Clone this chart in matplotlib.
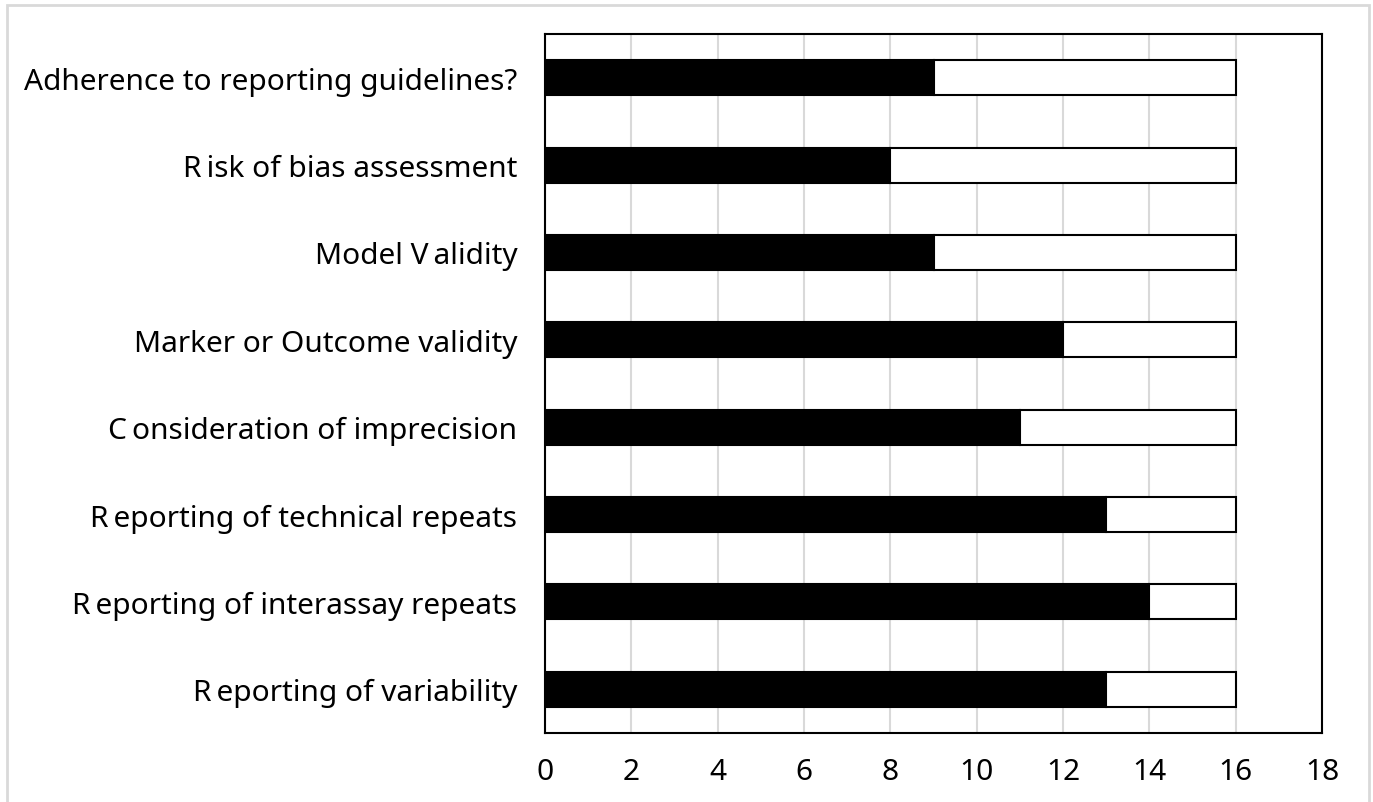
import matplotlib.pyplot as plt
from matplotlib.patches import Rectangle

categories = [
    'Adherence to reporting guidelines?',
    'R\u2009isk of bias assessment',
    'Model V\u2009alidity',
    'Marker or Outcome validity',
    'C\u2009onsideration of imprecision',
    'R\u2009eporting of technical repeats',
    'R\u2009eporting of interassay repeats',
    'R\u2009eporting of variability',
]
yes_counts = [9, 8, 9, 12, 11, 13, 14, 13]
total = 16
no_counts = [total - v for v in yes_counts]

plt.rcParams['font.family'] = ['Noto Sans', 'DejaVu Sans']

fig = plt.figure(figsize=(13.73, 8.03), dpi=100)
W, H = 1373, 803
ax = fig.add_axes([545 / W, 1 - 734 / H, (1322 - 545) / W, (734 - 35) / H])

ypos = list(range(len(categories)))[::-1]
ax.barh(ypos, yes_counts, height=0.4, color='black', edgecolor='black', linewidth=1.5, zorder=3)
ax.barh(ypos, no_counts, left=yes_counts, height=0.4, color='white', edgecolor='black',
        linewidth=1.5, zorder=3)

ax.set_xlim(0, 18)
ax.set_ylim(-0.5, len(categories) - 0.5)
ax.set_xticks(range(0, 19, 2))
ax.set_yticks(ypos)
ax.set_yticklabels(categories)
ax.tick_params(axis='both', length=0, labelsize=21.5, colors='black')
ax.tick_params(axis='y', pad=20)
ax.tick_params(axis='x', pad=17)
ax.grid(axis='x', color='#d9d9d9', linewidth=1.5, zorder=0)
for s in ax.spines.values():
    s.set_linewidth(1.5)
    s.set_color('black')

fig.patches.append(Rectangle((7 / W, -0.01), (1369 - 7) / W, 1 - 6 / H + 0.01,
                             transform=fig.transFigure, fill=False,
                             edgecolor='#d9d9d9', linewidth=2))

fig.savefig('out.png', dpi=100)
